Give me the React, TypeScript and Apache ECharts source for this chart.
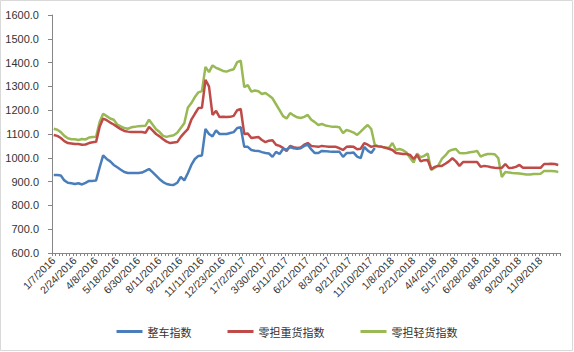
import React, { useEffect, useRef } from "react";
import * as echarts from "echarts";

const tickLabels = [
  "1/7/2016", "2/24/2016", "4/8/2016", "5/18/2016", "6/30/2016", "8/11/2016",
  "9/21/2016", "11/11/2016", "12/23/2016", "17/2/2017", "3/30/2017", "5/11/2017",
  "6/21/2017", "8/3/2017", "9/21/2017", "11/10/2017", "1/8/2018", "2/21/2018",
  "4/4/2018", "5/17/2018", "6/28/2018", "8/9/2018", "9/20/2018", "11/9/2018",
];

const seriesNames = ["整车指数", "零担重货指数", "零担轻货指数"];

const wholeTruck = [
  928, 928, 926, 905, 895, 893, 890, 893, 888, 895, 903, 903, 905, 960, 1010, 995,
  985, 970, 960, 950, 940, 936, 936, 936, 936, 938, 945, 953, 940, 925, 910, 898,
  890, 887, 886, 895, 920, 905, 935, 970, 995, 1008, 1010, 1121, 1100, 1090, 1115, 1100,
  1100, 1100, 1104, 1108, 1125, 1128, 1046, 1046, 1033, 1030, 1029, 1024, 1020, 1018, 1004, 1025,
  1016, 1037, 1035, 1045, 1040, 1038, 1040, 1050, 1055, 1035, 1020, 1020, 1029, 1028, 1026, 1025,
  1025, 1025, 1004, 1020, 1020, 1022, 1005, 999, 1046, 1030, 1020, 1041,
];

const heavyLTL = [
  1096, 1092, 1083, 1070, 1062, 1060, 1058, 1058, 1055, 1056, 1062, 1065, 1067, 1130, 1165, 1158,
  1148, 1140, 1130, 1120, 1113, 1110, 1108, 1108, 1108, 1108, 1105, 1130, 1115, 1100, 1090, 1078,
  1068, 1062, 1064, 1066, 1088, 1105, 1120, 1160, 1185, 1209, 1210, 1327, 1300, 1180, 1197, 1171,
  1172, 1171, 1172, 1176, 1200, 1205, 1100, 1102, 1083, 1085, 1087, 1075, 1066, 1072, 1074, 1055,
  1050, 1042, 1028, 1050, 1045, 1041, 1043, 1055, 1062, 1050, 1048, 1046, 1050, 1048, 1046, 1046,
  1046, 1040, 1033, 1046, 1047, 1046, 1036, 1038, 1062, 1055, 1046, 1050, 1048, 1046, 1042, 1038,
  1033, 1020, 1018, 1016, 1016, 1012, 995, 1012, 985, 990, 991, 952, 962, 966, 966, 975,
  985, 998, 985, 966, 982, 982, 982, 982, 982, 962, 966, 964, 960, 958, 957, 958,
  974, 957, 958, 962, 970, 958, 958, 958, 958, 958, 958, 974, 974, 975, 974, 970,
];

const lightLTL = [
  1122, 1118, 1108, 1092, 1082, 1078, 1078, 1075, 1079, 1077, 1085, 1087, 1088, 1150, 1185, 1175,
  1165, 1160, 1140, 1132, 1125, 1122, 1128, 1130, 1133, 1134, 1135, 1160, 1140, 1120, 1108, 1092,
  1088, 1092, 1095, 1105, 1125, 1145, 1210, 1230, 1255, 1275, 1280, 1382, 1360, 1388, 1378, 1372,
  1365, 1362, 1368, 1372, 1402, 1408, 1297, 1305, 1278, 1283, 1280, 1268, 1272, 1262, 1250, 1225,
  1200, 1175, 1165, 1188, 1178, 1170, 1167, 1172, 1180, 1160, 1150, 1138, 1142, 1136, 1133, 1130,
  1130, 1128, 1104, 1117, 1112, 1106, 1096, 1110, 1125, 1138, 1121, 1055, 1048, 1046, 1043, 1041,
  1062, 1033, 1037, 1032, 1022, 1000, 980, 1018, 1002, 1008, 1018, 949, 958, 968, 995, 1010,
  1028, 1034, 1037, 1020, 1019, 1020, 1023, 1025, 1029, 1005, 1012, 1016, 1016, 1015, 999, 919,
  940, 938, 936, 935, 934, 932, 930, 930, 932, 932, 933, 945, 945, 945, 944, 940,
];

const seriesColors = ["#4A7EBB", "#BE4B48", "#98B954"];

function parseDate(s: string): Date {
  let [a, b, y] = s.split("/").map(Number);
  if (a > 12) [a, b] = [b, a];
  return new Date(y, a - 1, b);
}
function fmt(d: Date): string {
  return `${d.getMonth() + 1}/${d.getDate()}/${d.getFullYear()}`;
}

const categories: string[] = [];
tickLabels.forEach((lab) => {
  categories.push(lab);
  const base = parseDate(lab);
  for (let k = 1; k < 6; k++) {
    const d = new Date(base.getTime());
    d.setDate(d.getDate() + 7 * k);
    categories.push(fmt(d));
  }
});

export default function App() {
  const ref = useRef<HTMLDivElement>(null);
  useEffect(() => {
    document.body.style.margin = "0";
    if (!ref.current) return;
    const chart = echarts.init(ref.current, null, { renderer: "svg" });
    const font = "'Liberation Sans', 'Noto Sans CJK SC', sans-serif";
    chart.setOption({
      animation: false,
      textStyle: { fontFamily: font },
      grid: { left: 52, right: 14, top: 15, bottom: 99 },
      legend: {
        bottom: 10,
        left: "center",
        itemGap: 36,
        itemWidth: 26,
        itemHeight: 3,
        icon: "rect",
        textStyle: { fontSize: 11, color: "#333333", fontFamily: "'Noto Sans CJK SC', sans-serif" },
        data: seriesNames,
      },
      xAxis: {
        type: "category",
        data: categories,
        boundaryGap: true,
        axisLine: { lineStyle: { color: "#868686", width: 1 } },
        axisTick: { show: true, interval: 0, length: 3, lineStyle: { color: "#868686" } },
        axisLabel: {
          interval: 5,
          rotate: 45,
          fontSize: 10.5,
          color: "#333333",
          margin: 6,
        },
        splitLine: { show: false },
      },
      yAxis: {
        type: "value",
        min: 600,
        max: 1600,
        interval: 100,
        axisLine: { show: true, lineStyle: { color: "#868686", width: 1 } },
        axisTick: { show: true, length: 4, lineStyle: { color: "#868686" } },
        axisLabel: {
          fontSize: 11,
          color: "#333333",
          margin: 13,
          formatter: (v: number) => v.toFixed(1),
        },
        splitLine: { show: false },
      },
      series: [
        { name: seriesNames[0], data: wholeTruck },
        { name: seriesNames[1], data: heavyLTL },
        { name: seriesNames[2], data: lightLTL },
      ].map((s, i) => ({
        ...s,
        type: "line",
        showSymbol: false,
        symbol: "none",
        lineStyle: { width: 2.5, color: seriesColors[i] },
        itemStyle: { color: seriesColors[i] },
        z: 3 - i,
      })),
      graphic: [
        {
          type: "rect",
          shape: { x: 0.5, y: 0.5, width: 572, height: 350 },
          style: { fill: "none", stroke: "#D9D9D9", lineWidth: 1 },
          silent: true,
        },
      ],
    });
    return () => chart.dispose();
  }, []);
  return <div ref={ref} style={{ width: 574, height: 352 }} />;
}
